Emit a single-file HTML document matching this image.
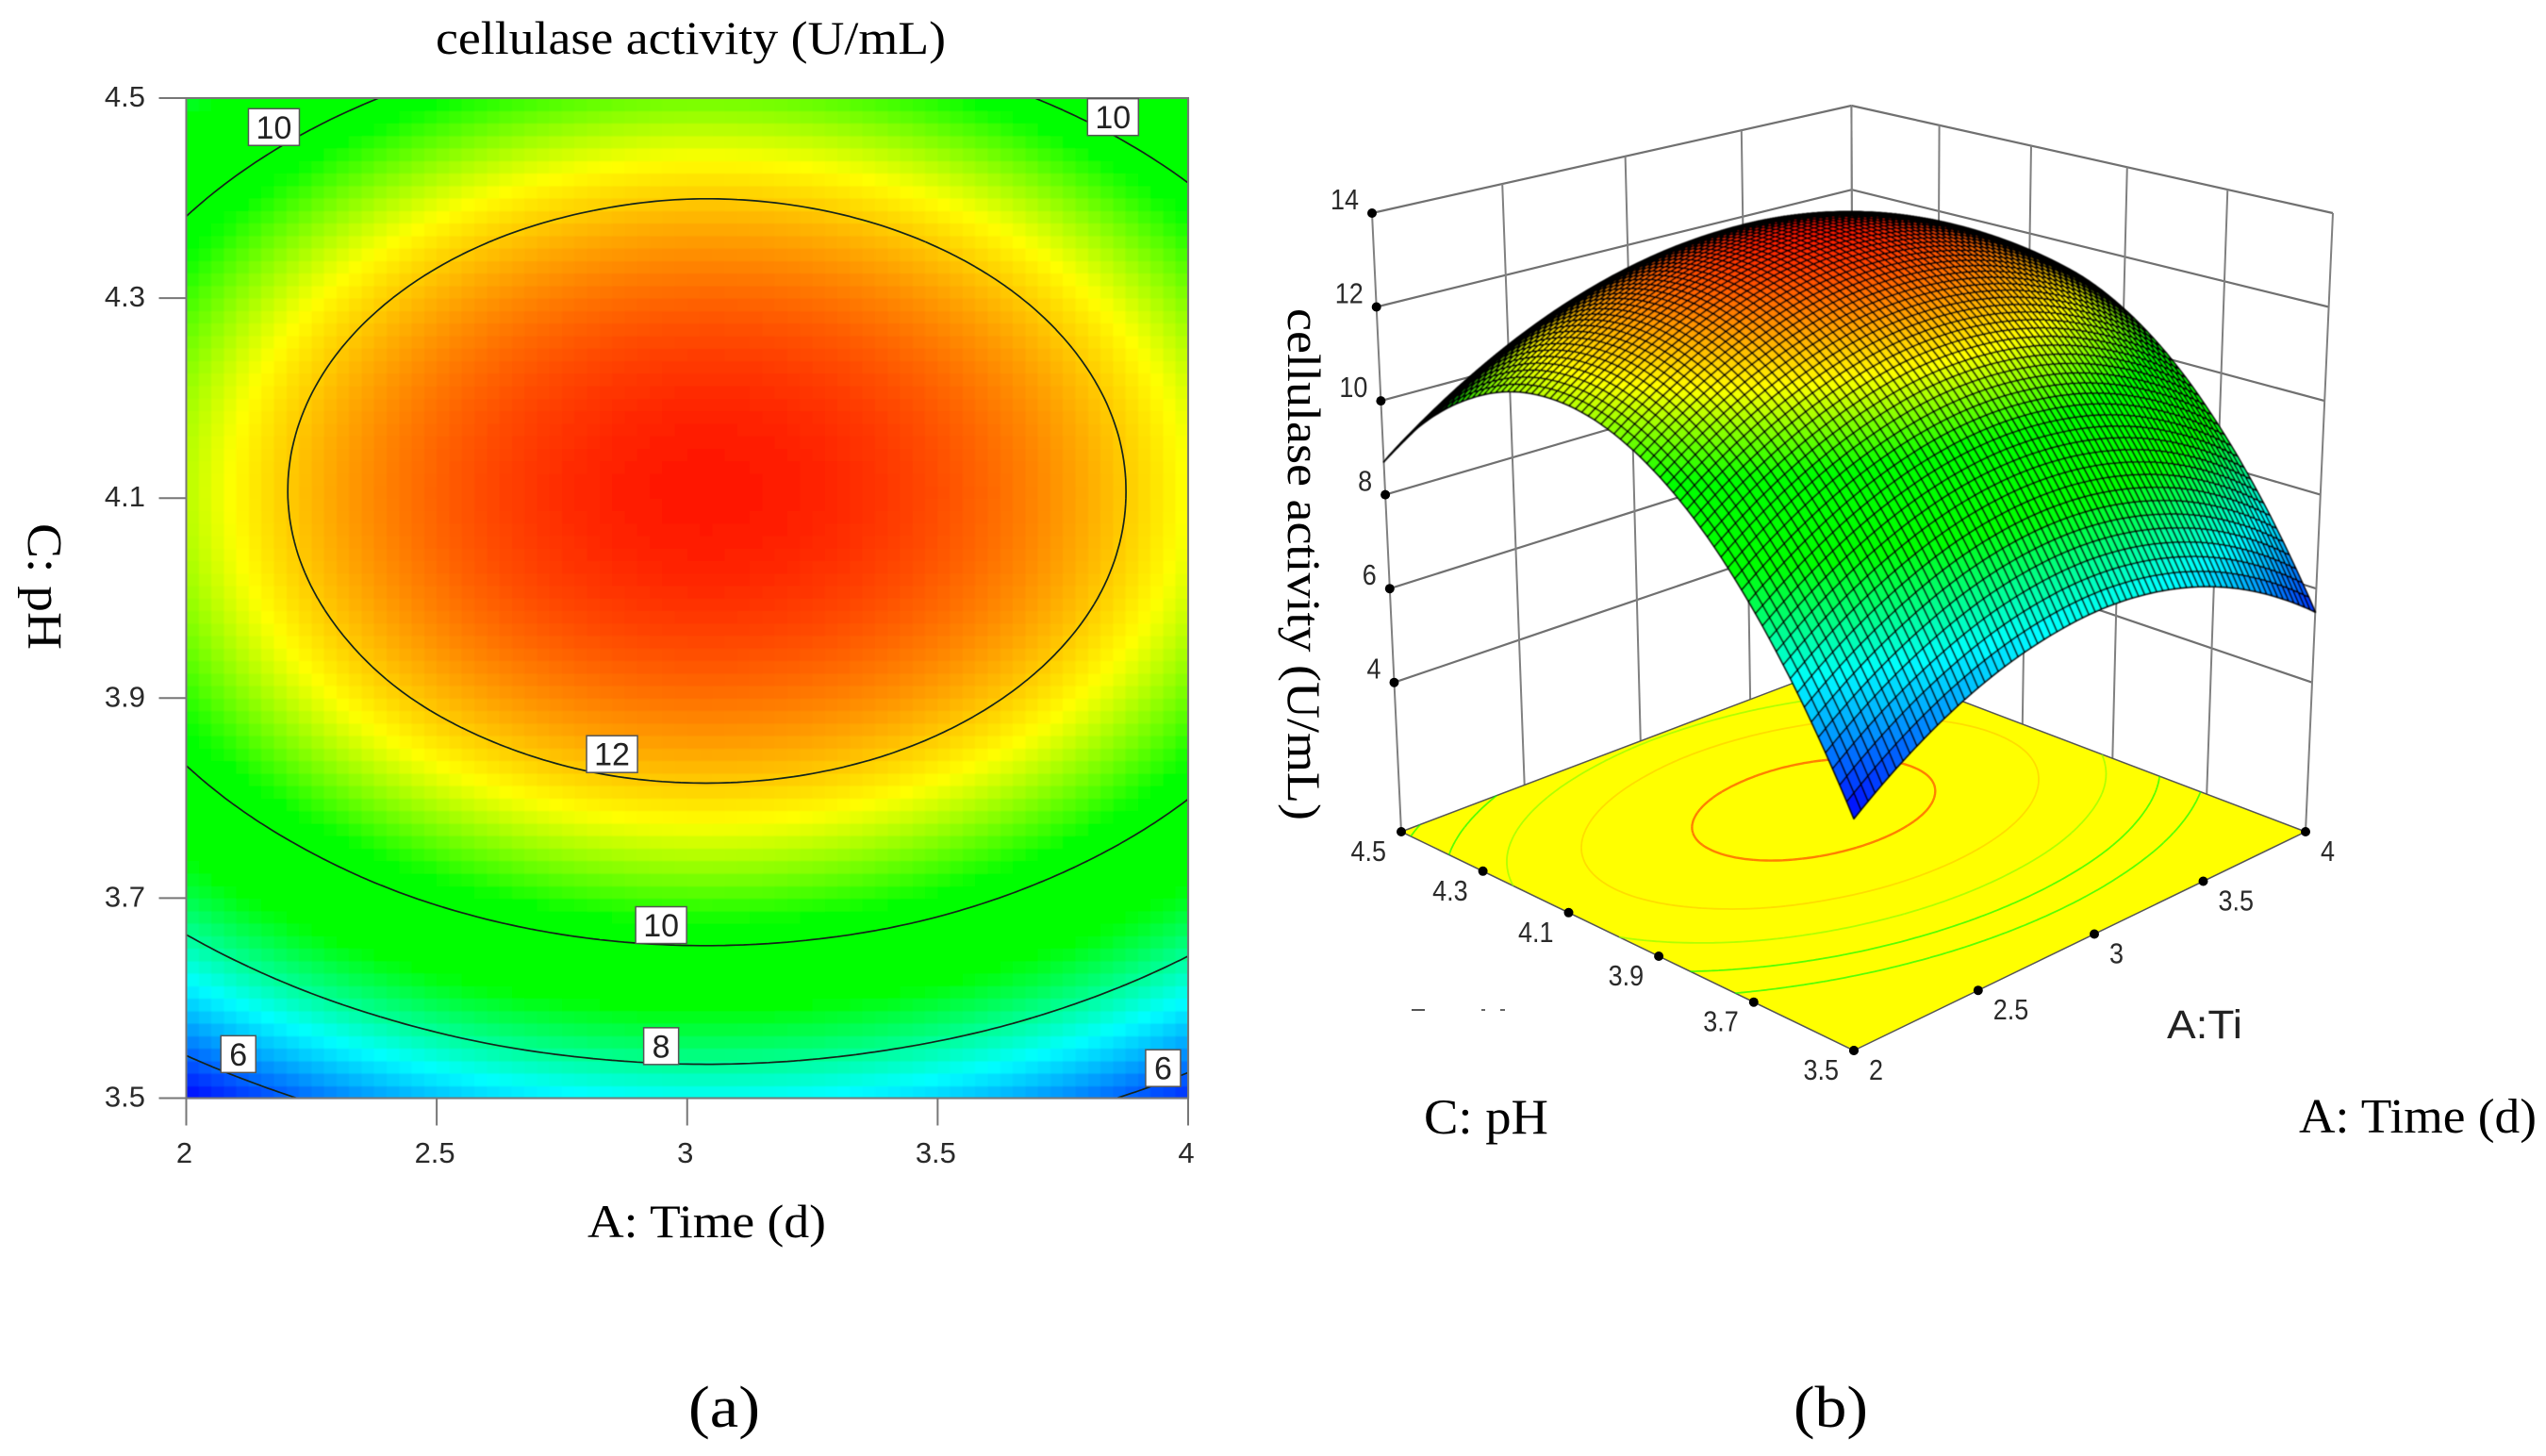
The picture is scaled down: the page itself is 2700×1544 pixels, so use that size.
<!DOCTYPE html>
<html lang="en">
<head>
<meta charset="utf-8">
<title>Cellulase activity response surface</title>
<style>
html,body{margin:0;padding:0;background:#fff;}
svg{display:block;}
.serif{font-family:"Liberation Serif",serif;fill:#000;}
.sans{font-family:"Liberation Sans",sans-serif;fill:#2a2a2a;}
</style>
</head>
<body>
<svg id="figure" xmlns="http://www.w3.org/2000/svg" width="2700" height="1544" viewBox="0 0 2700 1544">
  <defs>
    <filter id="softHeat" x="-2%" y="-2%" width="104%" height="104%"><feGaussianBlur stdDeviation="0.8"/></filter>
    <filter id="softMesh" x="-2%" y="-2%" width="104%" height="104%"><feGaussianBlur stdDeviation="0.55"/></filter>
  </defs>
  <rect x="0" y="0" width="2700" height="1544" fill="#fff"/>
  <g id="panelA"></g>
  <g id="panelB"></g>

  <text class="serif" x="462" y="57" font-size="50" textLength="541" lengthAdjust="spacingAndGlyphs">cellulase activity (U/mL)</text>
  <text class="serif" x="623" y="1312" font-size="50" textLength="253" lengthAdjust="spacingAndGlyphs">A: Time (d)</text>
  <text class="serif" transform="translate(30,555) rotate(90)" font-size="52" textLength="134" lengthAdjust="spacingAndGlyphs">C: pH</text>
  <text class="serif" transform="translate(1366,327) rotate(90)" font-size="50" textLength="543" lengthAdjust="spacingAndGlyphs">cellulase activity (U/mL)</text>
  <text class="serif" x="1510" y="1202" font-size="53" textLength="132" lengthAdjust="spacingAndGlyphs">C: pH</text>
  <text class="serif" x="2438" y="1201" font-size="52" textLength="252" lengthAdjust="spacingAndGlyphs">A: Time (d)</text>
  <text class="sans" x="2298" y="1101" font-size="43" textLength="80" lengthAdjust="spacingAndGlyphs" style="fill:#222">A:Ti</text>
  <rect x="1497" y="1070" width="14" height="2" fill="#555"/>
  <rect x="1571" y="1070" width="4" height="2" fill="#666"/>
  <rect x="1591" y="1070" width="5" height="2" fill="#666"/>
  <text class="serif" x="730" y="1513" font-size="62" textLength="76" lengthAdjust="spacingAndGlyphs">(a)</text>
  <text class="serif" x="1902" y="1513" font-size="62" textLength="79" lengthAdjust="spacingAndGlyphs">(b)</text>
</svg>

<script>
/* ---------- chart data ---------- */
const timeValues = [2, 2.2, 2.4, 2.6, 2.8, 3, 3.2, 3.4, 3.6, 3.8, 4];
const phValues = [3.5, 3.6, 3.7, 3.8, 3.9, 4, 4.1, 4.2, 4.3, 4.4, 4.5];
/* one row per pH value, one column per time value */
const activityPh35 = [5.18, 5.93, 6.52, 6.95, 7.22, 7.34, 7.29, 7.08, 6.71, 6.18, 5.50];
const activityPh36 = [7.01, 7.76, 8.35, 8.79, 9.06, 9.17, 9.12, 8.91, 8.55, 8.02, 7.33];
const activityPh37 = [8.51, 9.26, 9.86, 10.29, 10.56, 10.67, 10.62, 10.42, 10.05, 9.52, 8.83];
const activityPh38 = [9.69, 10.44, 11.03, 11.46, 11.74, 11.85, 11.80, 11.59, 11.22, 10.70, 10.01];
const activityPh39 = [10.53, 11.28, 11.88, 12.31, 12.58, 12.69, 12.64, 12.44, 12.07, 11.54, 10.85];
const activityPh40 = [11.05, 11.80, 12.39, 12.83, 13.10, 13.21, 13.16, 12.95, 12.59, 12.06, 11.37];
const activityPh41 = [11.24, 11.99, 12.58, 13.01, 13.28, 13.40, 13.35, 13.14, 12.77, 12.24, 11.56];
const activityPh42 = [11.10, 11.85, 12.44, 12.87, 13.14, 13.26, 13.21, 13.00, 12.63, 12.10, 11.42];
const activityPh43 = [10.62, 11.38, 11.97, 12.40, 12.67, 12.78, 12.74, 12.53, 12.16, 11.63, 10.94];
const activityPh44 = [9.83, 10.58, 11.17, 11.60, 11.87, 11.99, 11.94, 11.73, 11.36, 10.83, 10.15];
const activityPh45 = [8.70, 9.45, 10.04, 10.47, 10.74, 10.86, 10.81, 10.60, 10.23, 9.70, 9.02];
const activityGrid = [activityPh35, activityPh36, activityPh37, activityPh38, activityPh39, activityPh40, activityPh41, activityPh42, activityPh43, activityPh44, activityPh45];

const timeTicks = [2, 2.5, 3, 3.5, 4];
const timeTickLabels = ["2", "2.5", "3", "3.5", "4"];
const phTicks = [3.5, 3.7, 3.9, 4.1, 4.3, 4.5];
const phTickLabels = ["3.5", "3.7", "3.9", "4.1", "4.3", "4.5"];
const activityTicks = [4, 6, 8, 10, 12, 14];
const activityTickLabels = ["4", "6", "8", "10", "12", "14"];

const contourLevels = [6, 8, 10, 12];
const floorContourLevels = [9, 10, 11, 12, 13];
const contourLabelValues = ["10", "10", "12", "10", "8", "6", "6"];
const contourLabelTimes = [2.175, 3.85, 2.85, 2.948, 2.948, 2.104, 3.95];
const contourLabelPhs = [4.471, 4.481, 3.844, 3.673, 3.552, 3.544, 3.530];
const surfaceFloorActivity = 0.82;

/* ---------- helpers ---------- */
const NS = "http://www.w3.org/2000/svg";
function make(tag, parent) {
  const e = document.createElementNS(NS, tag);
  parent.appendChild(e);
  return e;
}
const nT = timeValues.length, nP = phValues.length;
const tMin = timeValues[0], tMax = timeValues[nT - 1];
const pMin = phValues[0], pMax = phValues[nP - 1];

function crv(a, b, c, d, s) {
  return b + 0.5 * s * (c - a + s * (2 * a - 5 * b + 4 * c - d + s * (3 * b - 3 * c + d - a)));
}
function cell(r, c) {
  if (c < 0) return 3 * cell(r, 0) - 3 * cell(r, 1) + cell(r, 2);
  if (c >= nT) return 3 * cell(r, nT - 1) - 3 * cell(r, nT - 2) + cell(r, nT - 3);
  if (r < 0) return 3 * cell(0, c) - 3 * cell(1, c) + cell(2, c);
  if (r >= nP) return 3 * cell(nP - 1, c) - 3 * cell(nP - 2, c) + cell(nP - 3, c);
  return activityGrid[r][c];
}
/* smooth lookup of the activity grid; u,v in 0..1 along time and pH */
function activityAt(u, v) {
  const fx = u * (nT - 1), fy = v * (nP - 1);
  let ix = Math.floor(fx), iy = Math.floor(fy);
  if (ix > nT - 2) ix = nT - 2;
  if (iy > nP - 2) iy = nP - 2;
  const sx = fx - ix, sy = fy - iy;
  const row = [];
  for (let k = -1; k <= 2; k++) {
    row.push(crv(cell(iy + k, ix - 1), cell(iy + k, ix), cell(iy + k, ix + 1), cell(iy + k, ix + 2), sx));
  }
  return crv(row[0], row[1], row[2], row[3], sy);
}
const flat = activityGrid.reduce(function (a, b) { return a.concat(b); }, []);
const zMin = Math.min.apply(null, flat), zMax = Math.max.apply(null, flat) + 0.06;
/* colour ramp: blue, cyan, a wide green band, yellow, red */
const rampAt = [0, 0.258, 0.465, 0.62, 0.775, 1];
const rampRgb = [[0, 0, 255], [0, 255, 255], [0, 255, 0], [0, 255, 0], [255, 255, 0], [255, 15, 0]];
function colorFor(z) {
  const s = Math.max(0, Math.min(0.9999, (z - zMin) / (zMax - zMin)));
  let i = 0;
  while (s > rampAt[i + 1]) i++;
  const f = (s - rampAt[i]) / (rampAt[i + 1] - rampAt[i]);
  const a = rampRgb[i], b = rampRgb[i + 1];
  return "rgb(" + Math.round(a[0] + (b[0] - a[0]) * f) + "," + Math.round(a[1] + (b[1] - a[1]) * f) + "," + Math.round(a[2] + (b[2] - a[2]) * f) + ")";
}
/* marching squares over the unit square, returns segments in u,v */
const FIELD_N = 160;
const field = [];
for (let j = 0; j <= FIELD_N; j++) {
  const r = [];
  for (let i = 0; i <= FIELD_N; i++) r.push(activityAt(i / FIELD_N, j / FIELD_N));
  field.push(r);
}
function contourPath(level, project) {
  let d = "";
  for (let j = 0; j < FIELD_N; j++) {
    for (let i = 0; i < FIELD_N; i++) {
      const c = [[i, j], [i + 1, j], [i + 1, j + 1], [i, j + 1]];
      const pts = [];
      for (let k = 0; k < 4; k++) {
        const a = c[k], b = c[(k + 1) % 4];
        const va = field[a[1]][a[0]], vb = field[b[1]][b[0]];
        if ((va < level) !== (vb < level)) {
          const f = (level - va) / (vb - va);
          pts.push(project((a[0] + (b[0] - a[0]) * f) / FIELD_N, (a[1] + (b[1] - a[1]) * f) / FIELD_N));
        }
      }
      if (pts.length >= 2) {
        d += "M" + pts[0][0].toFixed(1) + " " + pts[0][1].toFixed(1) + "L" + pts[1][0].toFixed(1) + " " + pts[1][1].toFixed(1);
      }
    }
  }
  return d;
}

/* ---------- panel A : contour heat map ---------- */
const panelA = document.getElementById("panelA");
const ax0 = 197.5, ax1 = 1260, ay0 = 104, ay1 = 1164.5;
function xScale(t) { return ax0 + (t - tMin) / (tMax - tMin) * (ax1 - ax0); }
function yScale(p) { return ay1 - (p - pMin) / (pMax - pMin) * (ay1 - ay0); }

const heatGroup = make("g", panelA);


heatGroup.setAttribute("shape-rendering", "crispEdges");
heatGroup.setAttribute("filter", "url(#softHeat)");
const HEAT_N = 80;
for (let j = 0; j < HEAT_N; j++) {
  for (let i = 0; i < HEAT_N; i++) {
    const u = (i + 0.5) / HEAT_N, v = (j + 0.5) / HEAT_N;
    const r = make("rect", heatGroup);
    
    
    const cw = (ax1 - ax0) / HEAT_N, ch = (ay1 - ay0) / HEAT_N;
    r.setAttribute("x", (ax0 + i * cw).toFixed(2));
    r.setAttribute("y", (ay1 - (j + 1) * ch).toFixed(2));
    r.setAttribute("width", (cw + 0.6).toFixed(2));
    r.setAttribute("height", (ch + 0.6).toFixed(2));
    r.setAttribute("fill", colorFor(activityAt(u, v)));
  }
}
contourLevels.forEach(function (lv) {
  const p = make("path", panelA);
  
  
  p.setAttribute("d", contourPath(lv, function (u, v) {
    return [xScale(tMin + u * (tMax - tMin)), yScale(pMin + v * (pMax - pMin))];
  }));
  p.setAttribute("fill", "none");
  p.setAttribute("stroke", "#14241a");
  p.setAttribute("stroke-width", "1.7");
});
const frame = make("rect", panelA);


frame.setAttribute("x", ax0);
frame.setAttribute("y", ay0);
frame.setAttribute("width", ax1 - ax0);
frame.setAttribute("height", ay1 - ay0);
frame.setAttribute("fill", "none");
frame.setAttribute("stroke", "#777");
frame.setAttribute("stroke-width", "2");

timeTicks.forEach(function (t, i) {
  const l = make("line", panelA);
  
  
  l.setAttribute("x1", xScale(t));
  l.setAttribute("x2", xScale(t));
  l.setAttribute("y1", ay1);
  l.setAttribute("y2", ay1 + 29);
  l.setAttribute("stroke", "#777");
  l.setAttribute("stroke-width", "2");
  const s = make("text", panelA);
  
  
  s.setAttribute("class", "sans");
  s.setAttribute("x", xScale(t) - 2);
  s.setAttribute("y", 1233);
  s.setAttribute("font-size", "31");
  s.setAttribute("text-anchor", "middle");
  s.textContent = timeTickLabels[i];
});
phTicks.forEach(function (p, i) {
  const l = make("line", panelA);
  
  
  l.setAttribute("x1", ax0 - 29);
  l.setAttribute("x2", ax0);
  l.setAttribute("y1", yScale(p));
  l.setAttribute("y2", yScale(p));
  l.setAttribute("stroke", "#777");
  l.setAttribute("stroke-width", "2");
  const s = make("text", panelA);
  
  
  s.setAttribute("class", "sans");
  s.setAttribute("x", 154);
  s.setAttribute("y", yScale(p) + 9);
  s.setAttribute("font-size", "31");
  s.setAttribute("text-anchor", "end");
  s.textContent = phTickLabels[i];
});
contourLabelValues.forEach(function (txt, i) {
  const cx = xScale(contourLabelTimes[i]), cy = yScale(contourLabelPhs[i]);
  const w = txt.length > 1 ? 54 : 37, h = 39;
  const b = make("rect", panelA);
  
  
  b.setAttribute("x", cx - w / 2);
  b.setAttribute("y", cy - h / 2);
  b.setAttribute("width", w);
  b.setAttribute("height", h);
  b.setAttribute("fill", "#fff");
  b.setAttribute("stroke", "#555");
  b.setAttribute("stroke-width", "1.5");
  const s = make("text", panelA);
  
  
  s.setAttribute("class", "sans");
  s.setAttribute("x", cx);
  s.setAttribute("y", cy + 12);
  s.setAttribute("font-size", "34");
  s.setAttribute("text-anchor", "middle");
  s.setAttribute("style", "fill:#222");
  s.textContent = txt;
});

/* ---------- panel B : 3D surface ---------- */
const panelB = document.getElementById("panelB");
function homography(c0, c1, c2, c3) {
  const dx1 = c1[0] - c2[0], dx2 = c3[0] - c2[0], sx = c0[0] - c1[0] + c2[0] - c3[0];
  const dy1 = c1[1] - c2[1], dy2 = c3[1] - c2[1], sy = c0[1] - c1[1] + c2[1] - c3[1];
  const den = dx1 * dy2 - dx2 * dy1;
  const g = (sx * dy2 - dx2 * sy) / den, h = (dx1 * sy - sx * dy1) / den;
  const a = c1[0] - c0[0] + g * c1[0], b = c3[0] - c0[0] + h * c3[0], c = c0[0];
  const d = c1[1] - c0[1] + g * c1[1], e = c3[1] - c0[1] + h * c3[1], f = c0[1];
  return function (u, v) {
    const w = g * u + h * v + 1;
    return [(a * u + b * v + c) / w, (d * u + e * v + f) / w];
  };
}
/* unit square corners: (0,0) near, (1,0) right, (1,1) back, (0,1) left */
const floorAt = homography([1966, 1114], [2445, 882], [1966, 700], [1486, 882]);
const topAt = homography([1966, 371], [2474, 226], [1963.4, 112], [1455, 226]);
const topActivity = activityTicks[activityTicks.length - 1];
function project(u, v, z) {
  const F = floorAt(u, v), T = topAt(u, v);
  const s = (z - surfaceFloorActivity) / (topActivity - surfaceFloorActivity);
  return [F[0] + (T[0] - F[0]) * s, F[1] + (T[1] - F[1]) * s];
}
function uOf(t) { return (t - tMin) / (tMax - tMin); }
function vOf(p) { return (p - pMin) / (pMax - pMin); }

const wallGroup = make("g", panelB);


function gridLine(a, b, name, color, width) {
  const l = make("line", wallGroup);
  
  
  l.setAttribute("x1", a[0].toFixed(1));
  l.setAttribute("y1", a[1].toFixed(1));
  l.setAttribute("x2", b[0].toFixed(1));
  l.setAttribute("y2", b[1].toFixed(1));
  l.setAttribute("stroke", color);
  l.setAttribute("stroke-width", width);
}
activityTicks.forEach(function (z) {
  gridLine(project(0, 1, z), project(1, 1, z), "left-wall-gridline", "#707070", 2.2);
  gridLine(project(1, 1, z), project(1, 0, z), "right-wall-gridline", "#707070", 2.2);
});
timeTicks.forEach(function (t) {
  gridLine(floorAt(uOf(t), 1), topAt(uOf(t), 1), "left-wall-vertical", "#808080", 2);
});
phTicks.forEach(function (p) {
  gridLine(floorAt(1, vOf(p)), topAt(1, vOf(p)), "right-wall-vertical", "#808080", 2);
});
const floorCorners = [floorAt(0, 0), floorAt(1, 0), floorAt(1, 1), floorAt(0, 1)];
const floorPoly = make("polygon", panelB);


floorPoly.setAttribute("points", floorCorners.map(function (c) { return c[0] + "," + c[1]; }).join(" "));
floorPoly.setAttribute("fill", "#ffff00");
floorPoly.setAttribute("stroke", "#555");
floorPoly.setAttribute("stroke-width", "1.5");
floorContourLevels.forEach(function (lv) {
  const p = make("path", panelB);
  
  
  p.setAttribute("d", contourPath(lv, floorAt));
  p.setAttribute("fill", "none");
  p.setAttribute("stroke", colorFor(lv));
  p.setAttribute("stroke-width", lv >= 13 ? "2.4" : "1.8");
  p.setAttribute("stroke-opacity", lv >= 13 ? "0.7" : "0.65");
});

const meshGroup = make("g", panelB);


meshGroup.setAttribute("filter", "url(#softMesh)");
const MESH_N = 74;
for (let i = MESH_N - 1; i >= 0; i--) {
  for (let j = MESH_N - 1; j >= 0; j--) {
    const u0 = i / MESH_N, u1 = (i + 1) / MESH_N, v0 = j / MESH_N, v1 = (j + 1) / MESH_N;
    const z00 = activityAt(u0, v0), z10 = activityAt(u1, v0), z11 = activityAt(u1, v1), z01 = activityAt(u0, v1);
    const a = project(u0, v0, z00), b = project(u1, v0, z10), c = project(u1, v1, z11), d = project(u0, v1, z01);
    const q = make("polygon", meshGroup);
    
    
    q.setAttribute("points", [a, b, c, d].map(function (pt) { return pt[0].toFixed(1) + "," + pt[1].toFixed(1); }).join(" "));
    q.setAttribute("fill", colorFor((z00 + z10 + z11 + z01) / 4));
    q.setAttribute("stroke", "#000");
    q.setAttribute("stroke-width", "1.7");
    q.setAttribute("stroke-linejoin", "round");
  }
}

function axisDot(pt) {
  const c = make("circle", panelB);
  
  
  c.setAttribute("cx", pt[0].toFixed(1));
  c.setAttribute("cy", pt[1].toFixed(1));
  c.setAttribute("r", "5");
  c.setAttribute("fill", "#000");
}
function axisText(x, y, txt, anchor, name) {
  const s = make("text", panelB);
  
  
  s.setAttribute("class", "sans");
  s.setAttribute("x", x.toFixed(1));
  s.setAttribute("y", y.toFixed(1));
  s.setAttribute("font-size", "31");
  s.setAttribute("text-anchor", anchor);
  const digits = txt.replace(".", "").length, dots = txt.length - digits;
  s.setAttribute("textLength", ((digits * 0.556 + dots * 0.278) * 31 * 0.87).toFixed(1));
  s.setAttribute("lengthAdjust", "spacingAndGlyphs");
  s.textContent = txt;
}
activityTicks.forEach(function (z, i) {
  const pt = project(0, 1, z);
  axisDot(pt);
  axisText(pt[0] - 14, pt[1] - 4, activityTickLabels[i], "end", "z-tick-label");
});
phTicks.forEach(function (p, i) {
  const pt = floorAt(0, vOf(p));
  axisDot(pt);
  axisText(pt[0] - 16, pt[1] + 31, phTickLabels[i], "end", "ph-tick-label");
});
timeTicks.forEach(function (t, i) {
  const pt = floorAt(uOf(t), 0);
  axisDot(pt);
  axisText(pt[0] + 16, pt[1] + 31, timeTickLabels[i], "start", "time-tick-label");
});
</script>
</body>
</html>
